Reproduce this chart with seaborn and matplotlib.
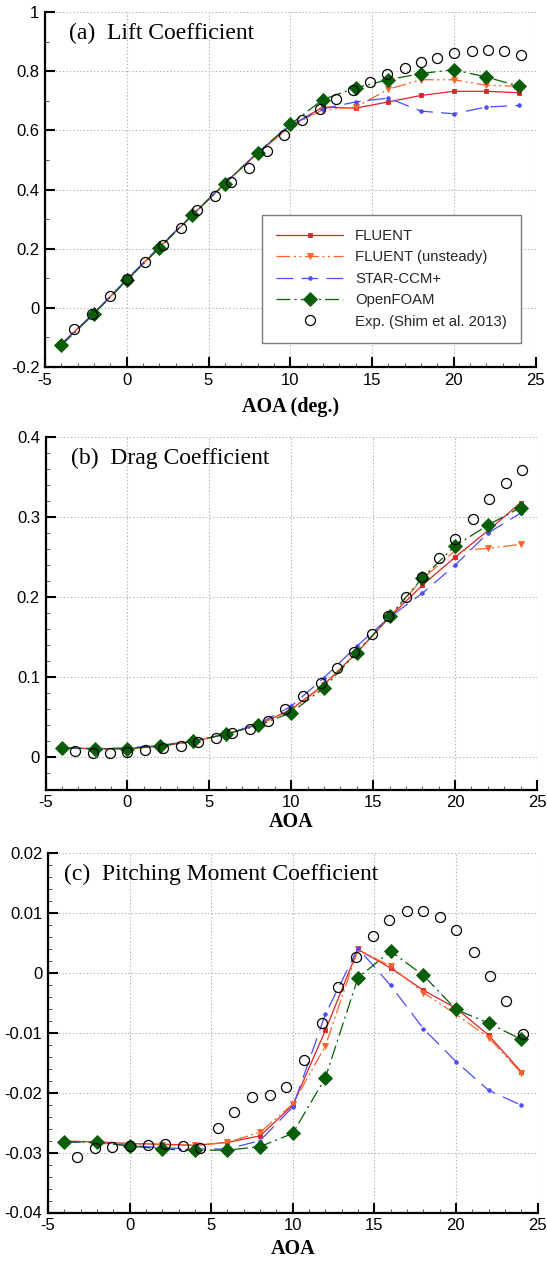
import numpy as np
import matplotlib
matplotlib.use("Agg")
import matplotlib.pyplot as plt
from matplotlib.ticker import MultipleLocator, FuncFormatter
import seaborn as sns

# ---- data -------------------------------------------------------------
aoa_cfd = [-4, -2, 0, 2, 4, 6, 8, 10, 12, 14, 16, 18, 20, 22, 24]
aoa_exp = [-3.2, -2.1, -1.05, 0.0, 1.1, 2.2, 3.3, 4.3, 5.4, 6.4, 7.5, 8.6, 9.6,
           10.7, 11.8, 12.8, 13.85, 14.9, 15.9, 17.0, 18.0, 19.0, 20.0, 21.1,
           22.1, 23.1, 24.1]

# lift coefficient
cl_fluent = [-0.122, -0.018, 0.095, 0.205, 0.312, 0.420, 0.522, 0.615, 0.679,
             0.675, 0.696, 0.718, 0.732, 0.732, 0.727]
cl_fluent_unst = [-0.122, -0.018, 0.095, 0.205, 0.312, 0.420, 0.522, 0.612, 0.670,
                  0.678, 0.739, 0.771, 0.771, 0.752, 0.749]
cl_star = [-0.122, -0.018, 0.097, 0.207, 0.314, 0.422, 0.525, 0.616, 0.673,
           0.696, 0.709, 0.665, 0.656, 0.679, 0.684]
cl_openfoam = [-0.127, -0.020, 0.093, 0.202, 0.313, 0.420, 0.525, 0.620, 0.704,
               0.744, 0.771, 0.792, 0.805, 0.780, 0.749]
cl_exp = [-0.070, -0.020, 0.039, 0.099, 0.155, 0.211, 0.270, 0.332, 0.377, 0.425,
          0.473, 0.529, 0.583, 0.634, 0.673, 0.705, 0.735, 0.763, 0.789, 0.812,
          0.831, 0.846, 0.861, 0.867, 0.870, 0.867, 0.854]

# drag coefficient
cd_fluent = [0.012, 0.011, 0.011, 0.014, 0.020, 0.029, 0.041, 0.060, 0.091,
             0.131, 0.175, 0.215, 0.250, 0.283, 0.318]
cd_fluent_unst = [0.012, 0.011, 0.011, 0.014, 0.020, 0.029, 0.041, 0.059, 0.090,
                  0.130, 0.175, 0.223, 0.258, 0.261, 0.266]
cd_star = [0.012, 0.011, 0.012, 0.015, 0.021, 0.029, 0.042, 0.064, 0.0995,
           0.139, 0.175, 0.205, 0.240, 0.280, 0.305]
cd_openfoam = [0.0124, 0.0104, 0.011, 0.0145, 0.020, 0.029, 0.040, 0.056, 0.087,
               0.131, 0.176, 0.224, 0.264, 0.290, 0.312]
cd_exp = [0.0083, 0.006, 0.006, 0.007, 0.009, 0.0116, 0.0145, 0.0195, 0.024,
          0.030, 0.036, 0.046, 0.061, 0.077, 0.093, 0.112, 0.132, 0.154, 0.176,
          0.200, 0.225, 0.249, 0.273, 0.298, 0.322, 0.342, 0.359]

# pitching moment coefficient
cm_fluent = [-0.0281, -0.0282, -0.0285, -0.0286, -0.0288, -0.0283, -0.0272,
             -0.0221, -0.0096, 0.0039, 0.0008, -0.0029, -0.0059, -0.0104, -0.0165]
cm_fluent_unst = [-0.0281, -0.0282, -0.0285, -0.0287, -0.0288, -0.0283, -0.0266,
                  -0.0219, -0.0122, 0.0039, 0.0011, -0.0033, -0.0069, -0.0108, -0.0167]
cm_star = [-0.0282, -0.0284, -0.0288, -0.0292, -0.0294, -0.0294, -0.0280,
           -0.0224, -0.0069, 0.0041, -0.0021, -0.0093, -0.0148, -0.0196, -0.0221]
cm_openfoam = [-0.0282, -0.0283, -0.0289, -0.0294, -0.0296, -0.0296, -0.0290,
               -0.0268, -0.0175, -0.0008, 0.0036, -0.0004, -0.0061, -0.0084, -0.0111]
cm_exp = [-0.0308, -0.0293, -0.0291, -0.0289, -0.0287, -0.0285, -0.0289, -0.0293,
          -0.0259, -0.0232, -0.0208, -0.0204, -0.0191, -0.0146, -0.0084, -0.0023,
          0.0026, 0.0062, 0.0089, 0.0103, 0.0104, 0.0094, 0.0071, 0.0034, -0.0006,
          -0.0047, -0.0102]

series_labels = ["FLUENT", "FLUENT (unsteady)", "STAR-CCM+", "OpenFOAM",
                 "Exp. (Shim et al. 2013)"]

# ---- style ------------------------------------------------------------
sns.set_style("white")
plt.rcParams["font.family"] = ["Liberation Sans", "DejaVu Sans"]
plt.rcParams["axes.unicode_minus"] = False
plt.rcParams["lines.scale_dashes"] = False

RED = "#e0202a"
ORANGE = "#ff6428"
BLUE = "#4a4cff"
GREEN = "#075e07"

styles = [
    dict(color=RED, linestyle="-", lw=0.9, marker="s", markersize=2.6),
    dict(color=ORANGE, linestyle=(0, (10, 2.5, 1.5, 2.5, 1.5, 2.5)), lw=0.9,
         marker="v", markersize=4.2),
    dict(color=BLUE, linestyle=(0, (12, 6)), lw=0.9, marker="o", markersize=2.6),
    dict(color=GREEN, linestyle=(0, (10, 3, 1.5, 3)), lw=0.9, marker="D",
         markersize=6.8),
]

fig = plt.figure(figsize=(5.47, 12.61), dpi=100)
W, H = 547.0, 1261.0


def make_axes(left, right, top, bottom):
    return fig.add_axes([left / W, 1 - bottom / H, (right - left) / W,
                         (bottom - top) / H])


ax_a = make_axes(45, 535.5, 12, 367)
ax_b = make_axes(45.5, 537, 437, 789.5)
ax_c = make_axes(48, 537.5, 853, 1212.5)

panels = [
    (ax_a, [cl_fluent, cl_fluent_unst, cl_star, cl_openfoam], cl_exp,
     (-0.2, 1.0), [-0.2, 0, 0.2, 0.4, 0.6, 0.8, 1.0], 0.1,
     "(a)  Lift Coefficient", "AOA (deg.)", 0.049, 0.94, 7),
    (ax_b, [cd_fluent, cd_fluent_unst, cd_star, cd_openfoam], cd_exp,
     (-0.04, 0.4), [0, 0.1, 0.2, 0.3, 0.4], 0.02,
     "(b)  Drag Coefficient", "AOA", 0.052, 0.938, 1.5),
    (ax_c, [cm_fluent, cm_fluent_unst, cm_star, cm_openfoam], cm_exp,
     (-0.04, 0.02), [-0.04, -0.03, -0.02, -0.01, 0, 0.01, 0.02], 0.002,
     "(c)  Pitching Moment Coefficient", "AOA", 0.032, 0.94, 4.5),
]

fmt = FuncFormatter(lambda v, p: "%g" % round(v, 6))

for ax, cfd, exp, ylim, yticks, yminor, title, xlabel, tx, ty, lpad in panels:
    handles = []
    for vals, st, lab in zip(cfd, styles, series_labels):
        sns.lineplot(x=aoa_cfd, y=vals, ax=ax, estimator=None, sort=False,
                     color=st["color"], linestyle=st["linestyle"], lw=st["lw"],
                     marker=st["marker"], markersize=st["markersize"],
                     markeredgecolor=st["color"], markerfacecolor=st["color"],
                     mew=0.6, label=lab)
        handles.append(ax.lines[-1])
    sns.lineplot(x=aoa_exp, y=exp, ax=ax, estimator=None, sort=False,
                 color="black", linestyle="none", marker="o", markersize=7.2,
                 markerfacecolor="none", mec="black", mew=0.9,
                 label=series_labels[4])
    handles.append(ax.lines[-1])

    ax.set_xlim(-5, 25)
    ax.set_ylim(*ylim)
    ax.set_xticks([-5, 0, 5, 10, 15, 20, 25])
    ax.set_yticks(yticks)
    ax.xaxis.set_minor_locator(MultipleLocator(1))
    ax.yaxis.set_minor_locator(MultipleLocator(yminor))
    ax.xaxis.set_major_formatter(fmt)
    ax.yaxis.set_major_formatter(fmt)

    ax.grid(True, which="major", linestyle=(0, (1, 1.5)), color="#b4b4b4", lw=0.8)
    ax.set_axisbelow(True)
    for side in ("top", "right"):
        ax.spines[side].set_visible(False)
    for side in ("left", "bottom"):
        ax.spines[side].set_linewidth(1.6)
        ax.spines[side].set_color("black")
    ax.tick_params(which="major", direction="in", length=7.5, width=1.5,
                   labelsize=12, pad=4, color="black", labelcolor="black",
                   bottom=True, left=True)
    ax.tick_params(which="minor", direction="in", length=3.2, width=0.7,
                   color="#555555", bottom=True, left=True)

    ax.text(tx, ty, title, transform=ax.transAxes, ha="left", va="center",
            fontsize=17, family="Liberation Serif", color="black")
    ax.set_xlabel(xlabel, fontsize=14.5, fontweight="bold",
                  family="Liberation Serif", labelpad=lpad, color="black")
    ax.set_ylabel("")

    leg = ax.get_legend()
    if leg is not None:
        leg.remove()

    if ax is ax_a:
        lg = ax.legend(handles, series_labels, loc="lower right",
                       bbox_to_anchor=(0.970, 0.0685), borderaxespad=0,
                       fontsize=10.7, handlelength=4.5, handletextpad=0.8,
                       borderpad=0.95, labelspacing=0.5, numpoints=1,
                       frameon=True, fancybox=False, framealpha=1)
        lg.get_frame().set_edgecolor("#7a7a7a")
        lg.get_frame().set_linewidth(1.0)

fig.savefig("out.png", dpi=100)
